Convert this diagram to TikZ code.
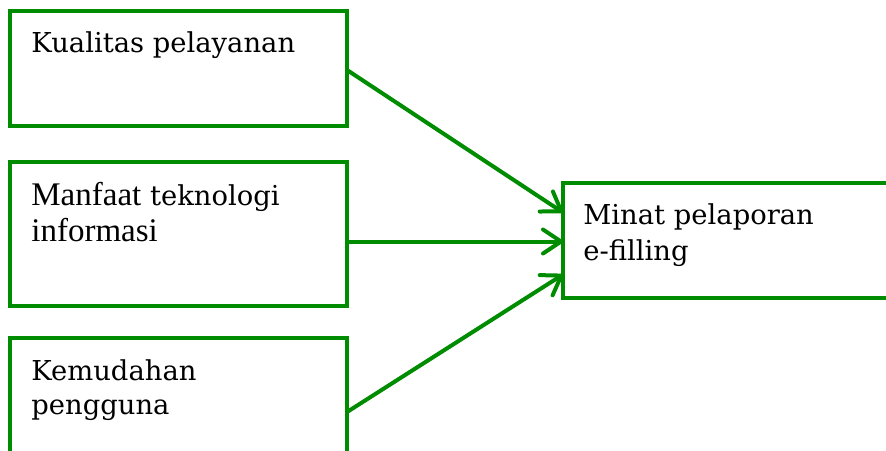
\documentclass[tikz,border=0pt]{standalone}
\usepackage{fontspec}
\setmainfont{DejaVu Serif}
\newfontfamily\cambriafont{Liberation Serif}
\usetikzlibrary{arrows.meta}
\definecolor{boxgreen}{RGB}{0,140,0}
\tikzset{
  box/.style={draw=boxgreen, line width=2pt, fill=white, inner sep=0pt, outer sep=0pt},
  lbl/.style={anchor=base west, inner sep=0pt, font=\fontsize{13.7pt}{17pt}\selectfont, text=black},
  cam/.style={font=\cambriafont\fontsize{16.5pt}{20pt}\selectfont},
  conn/.style={draw=boxgreen, line width=2pt, line cap=round, line join=round,
    -{Straight Barb[length=9pt,width=12pt,line cap=round,line join=round]}}
}
\begin{document}
\begin{tikzpicture}[x=0.5pt,y=-0.5pt]
\useasboundingbox (0,0) rectangle (886,450);
\begin{scope}
\clip (0,0) rectangle (886,450);
\node (b1) [box, minimum width=168.5pt, minimum height=57.5pt] at (178.5,68.5) {};
\node (b2) [box, minimum width=168.5pt, minimum height=72pt] at (178.5,234) {};
\node (b3) [box, minimum width=168.5pt, minimum height=66pt] at (178.5,404) {};
\node (b4) [box, minimum width=168.5pt, minimum height=57.5pt] at (731.5,240.5) {};
\end{scope}
\node (t1) [lbl] at (31,52) {Kualitas pelayanan};
\node (t2a) [lbl] at (31,205) {{\cambriafont\fontsize{16.5pt}{20pt}\selectfont Manfaat} teknologi};
\node (t2b) [lbl, cam] at (31,241) {informasi};
\node (t3a) [lbl] at (31,380) {Kemudahan};
\node (t3b) [lbl] at (31,414) {pengguna};
\node (t4a) [lbl] at (583,224) {Minat pelaporan};
\node (t4b) [lbl] at (583,260) {e-filling};
\draw[conn] ([yshift=-0.75pt]b1.east) -- ([yshift=14pt]b4.west);
\draw[conn] ([yshift=-3.75pt]b2.east) -- ([yshift=-0.5pt]b4.west);
\draw[conn] ([yshift=-4pt]b3.east) -- ([yshift=-17pt]b4.west);
\end{tikzpicture}
\end{document}
